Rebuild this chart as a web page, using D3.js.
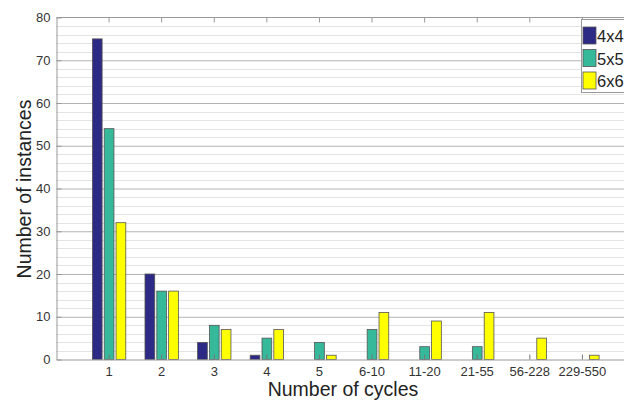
<!DOCTYPE html>
<html>
<head>
<meta charset="utf-8">
<script src="https://cdn.jsdelivr.net/npm/d3@7"></script>
<style>
  body { margin: 0; background: #fff; }
  text { font-family: "Liberation Sans", Arial, sans-serif; }
</style>
</head>
<body>
<div id="chart"></div>
<script>
// categories on the x axis
const categories = ["1", "2", "3", "4", "5", "6-10", "11-20", "21-55", "56-228", "229-550"]
const seriesNames = ["4x4", "5x5", "6x6"]
const v4x4 = [75, 20, 4, 1, 0, 0, 0, 0, 0, 0]
const v5x5 = [54, 16, 8, 5, 4, 7, 3, 3, 0, 0]
const v6x6 = [32, 16, 7, 7, 1, 11, 9, 11, 5, 1]
const yTicks = [0, 10, 20, 30, 40, 50, 60, 70, 80]
const colors = ["#2d2a86", "#35b99a", "#ffff00"]

const allSeries = [v4x4, v5x5, v6x6]
const W = 624, H = 400
const pLeft = 56.5, pRight = 635, pTop = 17.5, pBottom = 359.5

const svg = d3.select("#chart").append("svg").attr("width", W).attr("height", H)

const x = d3.scaleBand().domain(categories).range([pLeft, pRight]).paddingInner(0).paddingOuter(0.5)
const y = d3.scaleLinear().domain([0, 80]).range([pBottom, pTop])
const step = x.step()
const center = c => x(c) + x.bandwidth() / 2

// minor dotted grid every 2
const minor = d3.range(2, 80, 2).filter(v => v % 10 !== 0)
svg.append("g").selectAll("line").data(minor).enter().append("line")
  .attr("x1", pLeft).attr("x2", pRight)
  .attr("y1", d => Math.round(y(d)) + 0.5).attr("y2", d => Math.round(y(d)) + 0.5)
  .attr("stroke", "#c8c8c8").attr("stroke-width", 1).attr("stroke-dasharray", "1,1")

// major grid
const grid = svg.append("g").attr("transform", `translate(${pLeft},0)`)
  .call(d3.axisLeft(y).tickValues(yTicks.slice(1, -1)).tickSize(-(pRight - pLeft)).tickFormat(""))
grid.select(".domain").remove()
grid.selectAll("line").attr("stroke", "#b4b4b4")

// bars
const offs = [-0.225, 0, 0.225]
const bw = 0.185 * step
allSeries.forEach((vals, j) => {
  svg.append("g").selectAll("rect").data(vals.map((v, i) => ({ c: categories[i], v: v })).filter(d => d.v > 0))
    .enter().append("rect")
    .attr("x", d => center(d.c) + offs[j] * step - bw / 2)
    .attr("y", d => y(d.v))
    .attr("width", bw)
    .attr("height", d => pBottom - y(d.v))
    .attr("fill", colors[j])
    .attr("stroke", "#555")
    .attr("stroke-width", 0.8)
})

// axis frame
svg.append("line").attr("x1", pLeft).attr("x2", pRight).attr("y1", pTop).attr("y2", pTop).attr("stroke", "#999")

const yAxis = svg.append("g").attr("transform", `translate(${pLeft},0)`)
  .call(d3.axisLeft(y).tickValues(yTicks).tickSizeInner(-5).tickSizeOuter(0).tickPadding(6))
yAxis.select(".domain").attr("stroke", "#999")
yAxis.selectAll("line").attr("stroke", "#999")
yAxis.selectAll("text").attr("font-size", 13).attr("fill", "#333")
  .style("font-family", "'Liberation Sans', Arial, sans-serif")

const xAxis = svg.append("g").attr("transform", `translate(0,${pBottom})`)
  .call(d3.axisBottom(x).tickSizeInner(-5).tickSizeOuter(0).tickPadding(7))
xAxis.select(".domain").attr("stroke", "#999")
xAxis.selectAll("line").attr("stroke", "#777")
xAxis.selectAll("text").attr("font-size", 13).attr("fill", "#333")
  .style("font-family", "'Liberation Sans', Arial, sans-serif")

// top ticks
svg.append("g").selectAll("line").data(categories).enter().append("line")
  .attr("x1", d => center(d)).attr("x2", d => center(d))
  .attr("y1", pTop).attr("y2", pTop + 5).attr("stroke", "#999")

// labels
svg.append("text").attr("x", 343).attr("y", 396).attr("text-anchor", "middle")
  .attr("font-size", 19.5).attr("fill", "#222").text("Number of cycles")
svg.append("text").attr("transform", "translate(31,189) rotate(-90)").attr("text-anchor", "middle")
  .attr("font-size", 19.5).attr("fill", "#222").text("Number of instances")

// legend
const lg = svg.append("g").attr("transform", "translate(581,19)")
lg.append("rect").attr("x", 0.5).attr("y", 0.5).attr("width", 60).attr("height", 73)
  .attr("fill", "#fff").attr("stroke", "#999")
seriesNames.forEach((s, j) => {
  lg.append("rect").attr("x", 2).attr("y", 8 + j * 22.5).attr("width", 13).attr("height", 17)
    .attr("fill", colors[j]).attr("stroke", "#555").attr("stroke-width", 0.8)
  lg.append("text").attr("x", 16).attr("y", 23 + j * 22.5).attr("font-size", 16.5).attr("fill", "#222").text(s)
})
</script>
</body>
</html>
